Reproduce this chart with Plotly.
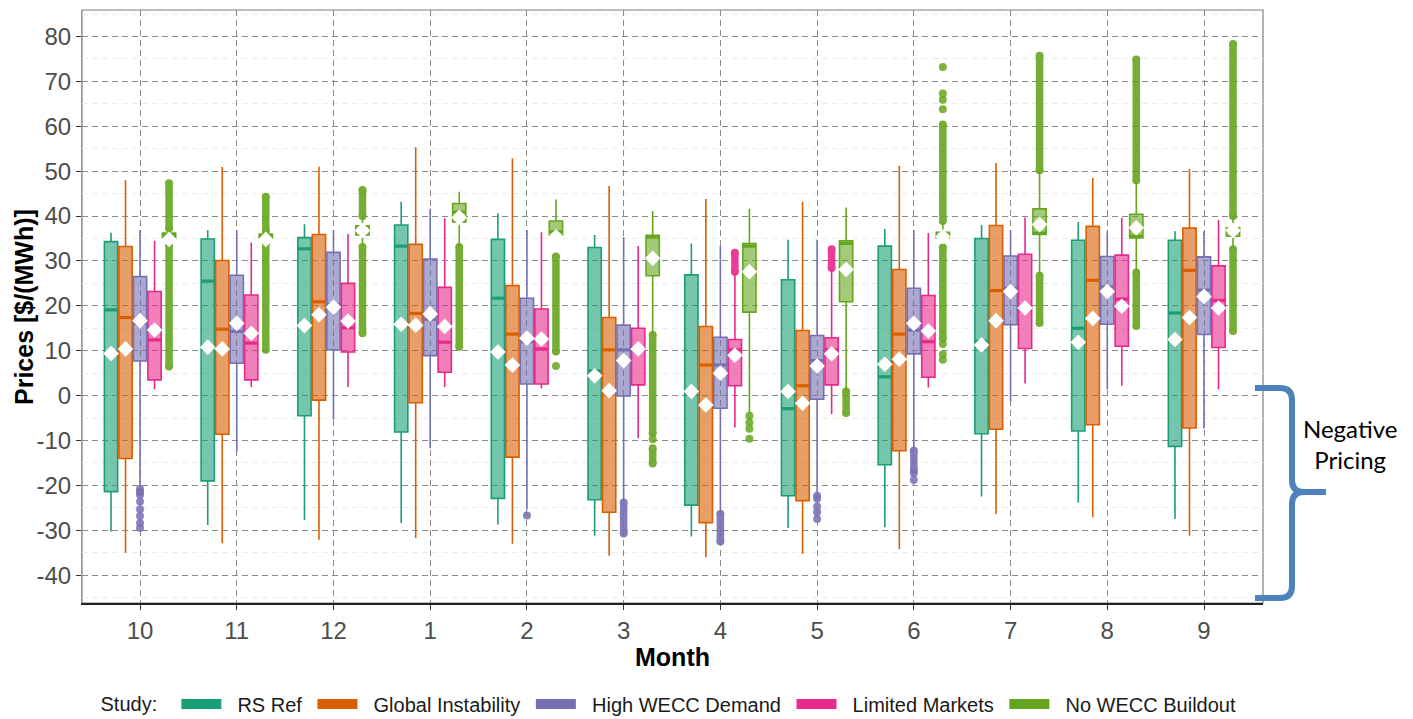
import plotly.graph_objects as go

# ---------------- data ----------------
months = ["10", "11", "12", "1", "2", "3", "4", "5", "6", "7", "8", "9"]
studies = ["RS Ref", "Global Instability", "High WECC Demand", "Limited Markets", "No WECC Buildout"]
colors = ["#1B9E77", "#D95F02", "#7570B3", "#E7298A", "#66A61E"]
y_ticks = [-40, -30, -20, -10, 0, 10, 20, 30, 40, 50, 60, 70, 80]

# RS Ref
rs_hi   = [36.3, 36.9, 38.2, 43.2, 40.6, 35.8, 33.9, 34.7, 37.1, 38.0, 38.7, 36.6]
rs_q3   = [34.3, 34.9, 35.2, 38.0, 34.8, 33.0, 26.9, 25.8, 33.3, 35.0, 34.6, 34.6]
rs_med  = [19.1, 25.5, 32.7, 33.3, 21.7, 5.5, 0.5, -2.9, 4.2, 12.1, 15.0, 18.4]
rs_q1   = [-21.4, -19.0, -4.5, -8.1, -22.9, -23.2, -24.4, -22.3, -15.4, -8.5, -7.9, -11.3]
rs_lo   = [-30.3, -28.8, -27.7, -28.4, -28.7, -31.2, -31.4, -29.5, -29.3, -22.5, -23.8, -27.5]
rs_mean = [9.4, 10.8, 15.6, 15.9, 9.7, 4.4, 0.9, 0.9, 7.0, 11.3, 11.9, 12.5]

# Global Instability
gi_hi   = [48.0, 50.9, 51.0, 55.3, 52.9, 46.7, 43.8, 43.2, 51.2, 51.8, 48.5, 50.5]
gi_q3   = [33.2, 30.1, 35.9, 33.7, 24.5, 17.4, 15.4, 14.5, 28.1, 37.9, 37.7, 37.3]
gi_med  = [17.4, 14.8, 20.9, 18.3, 13.7, 10.2, 6.8, 2.2, 13.7, 23.4, 25.7, 27.9]
gi_q1   = [-14.0, -8.6, -1.0, -1.6, -13.7, -26.0, -28.3, -23.4, -12.3, -7.5, -6.5, -7.2]
gi_lo   = [-35.0, -32.9, -32.1, -31.8, -33.0, -35.7, -36.0, -35.3, -34.2, -26.4, -27.1, -31.2]
gi_mean = [10.4, 10.4, 18.0, 15.7, 6.8, 1.1, -2.1, -1.7, 8.1, 16.7, 17.2, 17.4]

# High WECC Demand
hw_hi   = [36.9, 36.9, 36.9, 41.6, 36.9, 35.3, 33.3, 34.7, 36.9, 36.9, 36.6, 36.6]
hw_q3   = [26.5, 26.8, 31.9, 30.4, 21.7, 15.7, 13.0, 13.4, 23.9, 31.1, 31.0, 30.9]
hw_med  = [16.1, 14.3, 20.3, 17.0, 12.0, 10.2, 6.8, 7.8, 14.6, 23.9, 24.2, 23.5]
hw_q1   = [7.7, 7.2, 10.2, 8.9, 2.6, -0.1, -2.8, -0.8, 9.3, 15.8, 15.9, 13.6]
hw_lo   = [-20.3, -12.5, -5.3, -11.7, -25.4, -23.3, -25.9, -21.8, -11.8, -1.3, 1.4, -7.3]
hw_mean = [16.7, 16.1, 19.7, 18.2, 12.8, 7.8, 5.0, 6.6, 16.1, 23.2, 23.2, 22.1]

# Limited Markets
lm_hi   = [34.5, 34.1, 36.0, 39.5, 36.4, 33.3, 27.2, 28.0, 36.2, 39.7, 39.6, 39.1]
lm_q3   = [23.2, 22.4, 25.0, 24.1, 19.3, 15.0, 12.5, 12.9, 22.3, 31.5, 31.3, 28.9]
lm_med  = [12.4, 11.7, 15.1, 11.9, 10.4, 10.3, 10.2, 10.2, 12.0, 19.1, 21.5, 21.2]
lm_q1   = [3.5, 3.5, 9.7, 5.2, 2.6, 2.4, 2.2, 2.4, 4.1, 10.5, 11.0, 10.7]
lm_lo   = [1.4, 1.9, 1.9, 1.9, 1.6, -9.5, -7.1, -4.1, 1.8, 2.7, 2.2, 1.4]
lm_mean = [14.6, 13.9, 16.6, 15.4, 12.6, 10.4, 9.0, 9.3, 14.4, 19.5, 19.9, 19.5]

# No WECC Buildout
nb_hi   = [36.8, 36.3, 39.6, 45.4, 43.7, 41.1, 41.6, 41.9, 38.5, 49.8, 47.6, 39.7]
nb_q3   = [36.2, 36.0, 37.8, 42.8, 38.9, 35.7, 33.9, 34.5, 36.4, 41.6, 40.4, 37.4]
nb_med  = [35.7, 35.5, 36.9, 40.9, 36.5, 35.3, 33.3, 33.9, 35.7, 36.2, 35.5, 36.5]
nb_q1   = [35.2, 35.0, 35.8, 38.7, 35.6, 26.7, 18.6, 20.9, 35.1, 35.9, 35.1, 35.5]
nb_lo   = [34.0, 34.3, 33.4, 33.4, 34.2, 13.7, -3.9, 1.0, 33.5, 27.0, 27.8, 33.0]
nb_mean = [34.8, 34.8, 36.8, 39.7, 35.4, 30.6, 27.6, 28.1, 35.4, 38.1, 37.4, 36.8]

# Outliers: dense runs of overlapping points [low, high], and isolated points, per month
rs_runs, rs_pts = [[] for _ in range(12)], [[] for _ in range(12)]
gi_runs, gi_pts = [[] for _ in range(12)], [[] for _ in range(12)]
hw_runs = [[], [], [], [], [], [(-30.7, -23.8)], [(-32.5, -26.4)], [], [(-16.5, -12.3)], [], [], []]
hw_pts  = [[-20.8, -21.5, -22.1, -23.6, -25.3, -26.8, -28.4, -29.5], [], [], [], [-26.7], [], [],
           [-22.3, -23.0, -24.7, -26.0, -27.5], [-17.3, -18.8], [], [], []]
lm_runs = [[], [], [], [], [], [], [(27.6, 31.8)], [(28.4, 32.6)], [], [], [], []]
lm_pts  = [[] for _ in range(12)]
nb_runs = [[(37.2, 47.3), (6.5, 33.6)], [(36.6, 44.3), (10.2, 33.9)], [(40.0, 45.8), (13.9, 33.1)],
           [(10.9, 33.1)], [(9.8, 31.0)], [(-8.4, 13.5), (-15.1, -11.7)], [], [(-3.9, 0.9)],
           [(38.9, 60.4), (12.7, 33.0)], [(50.2, 75.7), (16.2, 26.7)], [(48.0, 74.9), (15.5, 27.4)],
           [(40.0, 78.3), (14.4, 32.6)]]
nb_pts  = [[], [], [], [], [6.6], [-9.7], [-4.5, -6.0, -7.4, -9.6], [],
           [73.2, 67.3, 65.9, 63.8, 11.5, 9.2, 8.0], [], [], []]

stats = [
    (rs_lo, rs_q1, rs_med, rs_q3, rs_hi, rs_mean, rs_runs, rs_pts),
    (gi_lo, gi_q1, gi_med, gi_q3, gi_hi, gi_mean, gi_runs, gi_pts),
    (hw_lo, hw_q1, hw_med, hw_q3, hw_hi, hw_mean, hw_runs, hw_pts),
    (lm_lo, lm_q1, lm_med, lm_q3, lm_hi, lm_mean, lm_runs, lm_pts),
    (nb_lo, nb_q1, nb_med, nb_q3, nb_hi, nb_mean, nb_runs, nb_pts),
]

# ---------------- layout geometry ----------------
W, H = 1413, 719
L, R, T, B = 82, 1263, 10, 603
slot = 0.15
box_w = 0.137
FONT = "Liberation Sans, Arial, sans-serif"
NB = "\u00a0"


def rgba(hexc, a):
    h = hexc.lstrip("#")
    return "rgba(%d,%d,%d,%s)" % (int(h[0:2], 16), int(h[2:4], 16), int(h[4:6], 16), a)


fig = go.Figure()
mean_traces = []
for k, (name, col, st) in enumerate(zip(studies, colors, stats)):
    lo, q1, med, q3, hi, mean, runs, pts = st
    off = (k - 2) * slot
    xs = [i + off for i in range(len(months))]
    fig.add_trace(go.Box(
        name=name, x=xs, q1=q1, median=med, q3=q3, lowerfence=lo, upperfence=hi,
        orientation="v", width=box_w, whiskerwidth=0, boxpoints=False,
        line=dict(color=col, width=1.6), fillcolor=rgba(col, 0.6),
        legendgroup=name, showlegend=False, hoverinfo="skip",
    ))
    # outlier runs (dense columns of overlapping points)
    rx, ry = [], []
    for i, rl in enumerate(runs):
        for a, b in rl:
            rx += [xs[i], xs[i], None]
            ry += [a, b, None]
    if rx:
        fig.add_trace(go.Scatter(x=rx, y=ry, mode="lines+markers",
                                 line=dict(color=col, width=7.5),
                                 marker=dict(color=col, size=8),
                                 opacity=0.9, showlegend=False, hoverinfo="skip",
                                 legendgroup=name))
    px_, py_ = [], []
    for i, pl in enumerate(pts):
        for v in pl:
            px_.append(xs[i])
            py_.append(v)
    if px_:
        fig.add_trace(go.Scatter(x=px_, y=py_, mode="markers",
                                 marker=dict(color=col, size=8, opacity=0.85),
                                 showlegend=False, hoverinfo="skip", legendgroup=name))
    # thick median bar
    mx, my = [], []
    for i in range(len(months)):
        mx += [xs[i] - box_w / 2, xs[i] + box_w / 2, None]
        my += [med[i], med[i], None]
    fig.add_trace(go.Scatter(x=mx, y=my, mode="lines", line=dict(color=col, width=3.2),
                             showlegend=False, hoverinfo="skip", legendgroup=name))
    mean_traces.append(go.Scatter(x=xs, y=mean, mode="markers",
                                  marker=dict(symbol="diamond", color="white", size=12,
                                              line=dict(width=0)),
                                  showlegend=False, hoverinfo="skip", legendgroup=name))
    # legend key (solid bar like the ggplot key)
    fig.add_trace(go.Scatter(x=[None], y=[None], mode="lines", name=NB * 2 + name + NB,
                             line=dict(color=col, width=12), showlegend=True,
                             legendgroup=name, hoverinfo="skip"))
for tr in mean_traces:
    fig.add_trace(tr)

tickfont = dict(family=FONT, size=24, color="#4D4D4D")
titlefont = dict(family=FONT, size=25, color="black")

fig.update_layout(
    width=W, height=H,
    margin=dict(l=L, r=W - R, t=T, b=H - B, pad=0, autoexpand=False),
    plot_bgcolor="white", paper_bgcolor="white",
    boxmode="overlay",
    font=dict(family=FONT),
    legend=dict(orientation="h", x=0.5, xanchor="center", y=(B - 704) / (B - T), yanchor="middle",
                title=dict(text="Study:" + NB * 2, font=dict(size=20, color="#1a1a1a")),
                font=dict(size=20, color="#1a1a1a"), itemwidth=40, traceorder="normal"),
    xaxis=dict(
        range=[-0.6, 11.61], tickmode="array", tickvals=list(range(len(months))), ticktext=months,
        showgrid=True, gridcolor="#8a8a8a", griddash="6px,4px", gridwidth=1,
        ticks="outside", ticklen=5, tickcolor="#333", tickfont=tickfont,
        showline=True, linecolor="#222", linewidth=1.5, zeroline=False, automargin=False,
        title=dict(text="<b>Month</b>", font=titlefont, standoff=6),
    ),
    yaxis=dict(
        range=[-46.2, 85.9], tickmode="array", tickvals=y_ticks,
        ticktext=[str(v) for v in y_ticks],
        showgrid=True, gridcolor="#8a8a8a", griddash="6px,4px", gridwidth=1,
        minor=dict(tickmode="array", tickvals=[v + 5 for v in y_ticks[:-1]] + [-45, 85],
                   showgrid=True, gridcolor="#ebebeb", gridwidth=1),
        ticks="outside", ticklen=5, tickcolor="#333", tickfont=tickfont,
        showline=True, linecolor="#999", linewidth=1, zeroline=False, automargin=False,
    ),
)

# panel border
fig.add_shape(type="rect", xref="paper", yref="paper", x0=0, y0=0, x1=1, y1=1,
              line=dict(color="#7f7f7f", width=1.2), layer="between")


def ppx(x):
    return (x - L) / (R - L)


def ppy(y):
    return (B - y) / (B - T)


# y-axis title placed like the reference
fig.add_annotation(xref="paper", yref="paper", x=ppx(24), y=ppy(307),
                   text="<b>Prices [$/(MWh)]</b>", textangle=-90, showarrow=False,
                   font=titlefont, xanchor="center", yanchor="middle")

# "Negative Pricing" brace
bx0, bx1, btip = 1255, 1292, 1326
by0, bmid, by1 = 388, 492, 598
r = 12
path = (
    f"M {ppx(bx0)},{ppy(by0)} L {ppx(bx1 - r)},{ppy(by0)} "
    f"Q {ppx(bx1)},{ppy(by0)} {ppx(bx1)},{ppy(by0 + r)} "
    f"L {ppx(bx1)},{ppy(bmid - r)} Q {ppx(bx1)},{ppy(bmid)} {ppx(bx1 + r)},{ppy(bmid)} "
    f"L {ppx(btip)},{ppy(bmid)} M {ppx(bx1 + r)},{ppy(bmid)} "
    f"Q {ppx(bx1)},{ppy(bmid)} {ppx(bx1)},{ppy(bmid + r)} "
    f"L {ppx(bx1)},{ppy(by1 - r)} Q {ppx(bx1)},{ppy(by1)} {ppx(bx1 - r)},{ppy(by1)} "
    f"L {ppx(bx0)},{ppy(by1)}"
)
fig.add_shape(type="path", xref="paper", yref="paper", path=path,
              line=dict(color="#4F81BD", width=6))
fig.add_annotation(xref="paper", yref="paper", x=ppx(1350), y=ppy(444),
                   text="Negative<br>Pricing", showarrow=False,
                   font=dict(family="Lato, Open Sans, sans-serif", size=24, color="black"),
                   align="center", xanchor="center", yanchor="middle")

fig.write_html("out.html", config={"displayModeBar": False},
               post_script="document.body.style.margin='0';")
